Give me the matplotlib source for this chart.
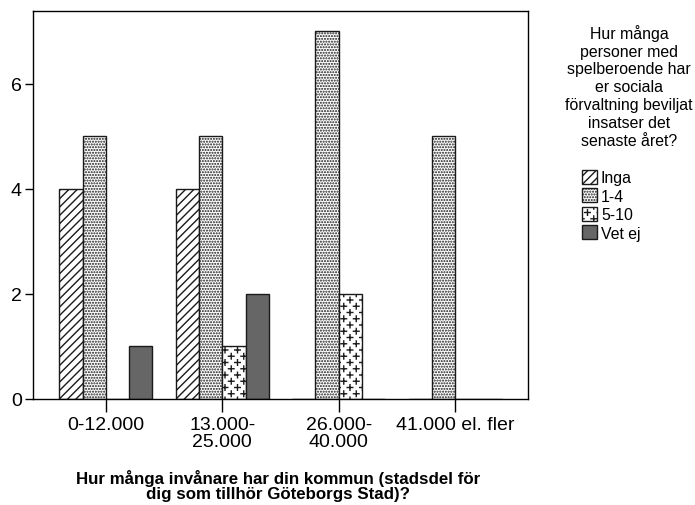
import numpy as np
import matplotlib
matplotlib.use("Agg")
import matplotlib.pyplot as plt
import matplotlib.hatch as mhatch
from matplotlib.path import Path
from matplotlib.patches import Patch

# data
kategorier = ["0-12.000", "13.000-\n25.000", "26.000-\n40.000", "41.000 el. fler"]
serier = ["Inga", "1-4", "5-10", "Vet ej"]
inga = [4, 4, 0, 0]
en_fyra = [5, 5, 7, 5]
fem_tio = [0, 1, 2, 0]
vet_ej = [1, 2, 0, 0]
varden = [inga, en_fyra, fem_tio, vet_ej]


class Plustecken(mhatch.HatchPatternBase):
    # spridda plustecken i forskjutna rader, som i SPSS
    def __init__(self, hatch, density):
        self.n = hatch.count("*") * 8
        if self.n == 0:
            self.num_vertices = 0
            return
        n = self.n
        self.pos = []
        for k in range(2 * n + 1):
            if k % 2 == 0:
                xs = [j / n for j in range(n + 1)]
            else:
                xs = [(j + 0.5) / n for j in range(n)]
            for x in xs:
                self.pos.append((x, k / (2 * n)))
        self.num_vertices = len(self.pos) * 4

    def set_vertices_and_codes(self, vertices, codes):
        a = 0.028
        i = 0
        for x, y in self.pos:
            vertices[i:i + 4] = [(x - a, y), (x + a, y), (x, y - a), (x, y + a)]
            codes[i:i + 4] = [Path.MOVETO, Path.LINETO, Path.MOVETO, Path.LINETO]
            i += 4


mhatch._hatch_types = [t for t in mhatch._hatch_types if t is not mhatch.Stars]
mhatch._hatch_types.append(Plustecken)

plt.rcParams["font.family"] = ["Liberation Sans", "DejaVu Sans"]
plt.rcParams["hatch.linewidth"] = 1.0

stilar = [
    dict(facecolor="white", hatch="////"),
    dict(facecolor="white", hatch="......"),
    dict(facecolor="white", hatch="*"),
    dict(facecolor="#666666", hatch=None),
]
kant = "#1a1a1a"

fig = plt.figure(figsize=(6.95, 5.06), dpi=100)
ax = fig.add_axes([33 / 695, 1 - 400 / 506, 495 / 695, 388 / 506])

x = np.arange(len(kategorier))
bredd = 0.2
for j, (namn, v) in enumerate(zip(serier, varden)):
    ax.bar(x + (j - 1.5) * bredd, v, bredd, edgecolor=kant,
           linewidth=1.0, label=namn, **stilar[j])

ax.set_xlim(-0.625, 3.625)
ax.set_ylim(0, 7.39)
ax.set_yticks([0, 2, 4, 6])
ax.set_xticks(x)
ax.set_xticklabels(kategorier, fontsize=14, linespacing=1.0)
ax.tick_params(axis="y", labelsize=14, length=6, width=1, pad=2)
ax.tick_params(axis="x", length=9, width=1, pad=3)
for s in ax.spines.values():
    s.set_linewidth(1)

fig.text(278 / 695, 1 - 470 / 506,
         "Hur många invånare har din kommun (stadsdel för\ndig som tillhör Göteborgs Stad)?",
         ha="center", va="top", fontsize=12.2, fontweight="bold",
         multialignment="center", linespacing=0.96)

fig.text(629 / 695, 1 - 25 / 506,
         "Hur många\npersoner med\nspelberoende har\ner sociala\nförvaltning beviljat\ninsatser det\nsenaste året?",
         ha="center", va="top", fontsize=11.4, multialignment="center",
         linespacing=1.23)

handtag = [Patch(edgecolor=kant, linewidth=1.0, label=n, **s)
           for n, s in zip(serier, stilar)]
fig.legend(handles=handtag, loc="upper left",
           bbox_to_anchor=(582 / 695, 1 - 171 / 506), frameon=False,
           fontsize=11.4, handlelength=0.95, handleheight=0.95,
           handletextpad=0.25, labelspacing=0.2, borderpad=0,
           borderaxespad=0)

fig.savefig("out.png", dpi=100)
